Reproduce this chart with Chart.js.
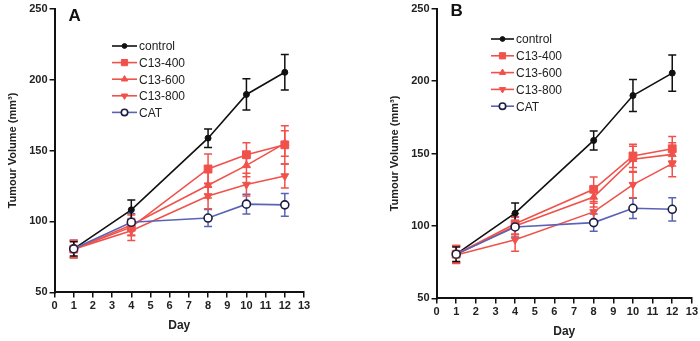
<!DOCTYPE html>
<html>
<head>
<meta charset="utf-8">
<script src="https://cdn.jsdelivr.net/npm/chart.js@4/dist/chart.umd.min.js"></script>
<style>
  body { margin: 0; background: #fff; }
  .panel { position: absolute; top: 0; width: 350px; height: 341px; }
</style>
</head>
<body>
<div class="panel" style="left:0"><canvas id="grafA" width="350" height="341"></canvas></div>
<div class="panel" style="left:350px"><canvas id="grafB" width="350" height="341"></canvas></div>
<script>
// Dados
const days = [1, 4, 8, 10, 12];
const seriesNames = ["control", "C13-400", "C13-600", "C13-800", "CAT"];

// Painel A
const controlA = [80.7, 108.2, 158.7, 189.5, 205.1];
const c400A = [80.5, 96, 137, 147, 154];
const c600A = [80.5, 97.5, 125.5, 139.5, 155];
const c800A = [80.5, 93.5, 118, 126, 132];
const catA = [80.7, 99.4, 102.4, 112.2, 111.7];
const controlErrA = [5, 7, 6.5, 11, 12.5];
const c400ErrA = [6, 6, 10.5, 8.5, 13.5];
const c600ErrA = [6, 7, 9, 8, 9];
const c800ErrA = [6, 7, 9, 8, 8.5];
const catErrA = [6, 6, 6, 7, 8];

// Painel B
const controlB = [80.5, 108.8, 159, 190, 205.5];
const c400B = [80.5, 101.5, 125.3, 148.3, 153.3];
const c600B = [80.5, 100, 120, 146, 149.4];
const c800B = [80, 90.5, 109.7, 128.5, 143];
const catB = [80.5, 99.3, 102.3, 112.2, 111.5];
const controlErrB = [5, 7, 6.5, 11, 12.5];
const c400ErrB = [6, 7, 8.5, 8, 8.5];
const c600ErrB = [6, 6, 7, 9, 8];
const c800ErrB = [6, 8, 6, 9, 9];
const catErrB = [5.5, 7, 6, 7, 8];

const FONT = "'Liberation Sans', Arial, sans-serif";
const RED = "#f0524b";
const BLUE = "#5a63b5";

function pts(values) {
  return days.map((d, i) => ({ x: d, y: values[i] }));
}

function makeSets(vals, errs) {
  const styles = [
    { color: "#111", pointStyle: "circle", radius: 3, bg: "#111", border: "#111", rot: 0 },
    { color: RED, pointStyle: "rect", radius: 5.5, bg: RED, border: RED, rot: 0 },
    { color: RED, pointStyle: "triangle", radius: 4.5, bg: RED, border: RED, rot: 0 },
    { color: RED, pointStyle: "triangle", radius: 4.5, bg: RED, border: RED, rot: 180 },
    { color: BLUE, pointStyle: "circle", radius: 4, bg: "#fff", border: "#1c1c40", rot: 0 }
  ];
  return vals.map((v, i) => ({
    label: seriesNames[i],
    data: pts(v),
    errors: errs[i],
    borderColor: styles[i].color,
    borderWidth: 1.6,
    pointStyle: styles[i].pointStyle,
    pointRadius: styles[i].radius,
    pointRotation: styles[i].rot,
    pointBackgroundColor: styles[i].bg,
    pointBorderColor: styles[i].border,
    pointBorderWidth: i === 4 ? 1.6 : 1,
    tension: 0
  })).reverse();
}

// barras de erro desenhadas pelas escalas do próprio gráfico
const errorBars = {
  id: "errorBars",
  beforeDatasetsDraw(chart) {
    const ctx = chart.ctx;
    const xs = chart.scales.x, ys = chart.scales.y;
    chart.data.datasets.forEach(ds => {
      ctx.save();
      ctx.strokeStyle = ds.borderColor;
      ctx.lineWidth = 1.5;
      ds.data.forEach((p, i) => {
        const e = ds.errors[i];
        const px = xs.getPixelForValue(p.x);
        const top = ys.getPixelForValue(p.y + e);
        const bot = ys.getPixelForValue(p.y - e);
        ctx.beginPath();
        ctx.moveTo(px, top); ctx.lineTo(px, bot);
        ctx.moveTo(px - 4, top); ctx.lineTo(px + 4, top);
        ctx.moveTo(px - 4, bot); ctx.lineTo(px + 4, bot);
        ctx.stroke();
      });
      ctx.restore();
    });
  }
};

// legenda com linha + marcador, e letra do painel
const panelDeco = {
  id: "panelDeco",
  afterDraw(chart, args, opts) {
    const ctx = chart.ctx;
    ctx.save();
    ctx.fillStyle = "#111";
    ctx.font = "bold 17px " + FONT;
    ctx.textBaseline = "alphabetic";
    ctx.fillText(opts.letter, chart.chartArea.left + 14, opts.letterY);
    const sets = chart.data.datasets.slice().reverse();
    ctx.font = "12px " + FONT;
    ctx.textBaseline = "middle";
    sets.forEach((ds, i) => {
      const y = opts.legY + i * opts.legStep;
      ctx.strokeStyle = ds.borderColor;
      ctx.lineWidth = 1.6;
      ctx.beginPath();
      ctx.moveTo(opts.legX, y);
      ctx.lineTo(opts.legX + opts.legLen, y);
      ctx.stroke();
      ctx.fillStyle = ds.pointBackgroundColor;
      ctx.strokeStyle = ds.pointBorderColor;
      ctx.lineWidth = ds.pointBorderWidth;
      Chart.helpers.drawPoint(ctx, {
        pointStyle: ds.pointStyle,
        radius: ds.pointRadius * 0.8,
        rotation: ds.pointRotation,
        borderWidth: ds.pointBorderWidth
      }, opts.legX + opts.legLen / 2, y);
      ctx.fillStyle = "#222";
      ctx.fillText(ds.label, opts.legX + opts.legLen + 2, y + 1);
    });
    ctx.restore();
  }
};

function makePanel(id, vals, errs, deco, padding) {
  new Chart(document.getElementById(id), {
    type: "line",
    data: { datasets: makeSets(vals, errs) },
    options: {
      responsive: false,
      animation: false,
      layout: { padding: padding },
      plugins: {
        legend: { display: false },
        tooltip: { enabled: false },
        panelDeco: deco
      },
      scales: {
        x: {
          type: "linear",
          min: 0, max: 13,
          ticks: { stepSize: 1, color: "#222", font: { family: FONT, size: 11, weight: "bold" }, padding: 2 },
          grid: { drawOnChartArea: false, color: "#111", lineWidth: 1.5, tickLength: 5 },
          border: { color: "#111", width: 2 },
          title: { display: true, text: "Day", color: "#222", font: { family: FONT, size: 12, weight: "bold" }, padding: { top: 4 } }
        },
        y: {
          min: 50, max: 250,
          ticks: { stepSize: 50, color: "#222", font: { family: FONT, size: 11, weight: "bold" }, padding: 2 },
          grid: { drawOnChartArea: false, color: "#111", lineWidth: 1.5, tickLength: 5 },
          border: { color: "#111", width: 2 },
          title: { display: true, text: "Tumour Volume (mm³)", color: "#222", font: { family: FONT, size: 11, weight: "bold" }, padding: { bottom: 8 } }
        }
      }
    },
    plugins: [errorBars, panelDeco]
  });
}

makePanel("grafA",
  [controlA, c400A, c600A, c800A, catA],
  [controlErrA, c400ErrA, c600ErrA, c800ErrA, catErrA],
  { letter: "A", letterY: 21, legX: 112, legLen: 25, legY: 46, legStep: 16.6 },
  { left: 2, right: 46, top: -4, bottom: 4 });

makePanel("grafB",
  [controlB, c400B, c600B, c800B, catB],
  [controlErrB, c400ErrB, c600ErrB, c800ErrB, catErrB],
  { letter: "B", letterY: 16, legX: 141, legLen: 23, legY: 39, legStep: 16.8 },
  { left: 34, right: 4, top: 0, bottom: -2 });
</script>
</body>
</html>
